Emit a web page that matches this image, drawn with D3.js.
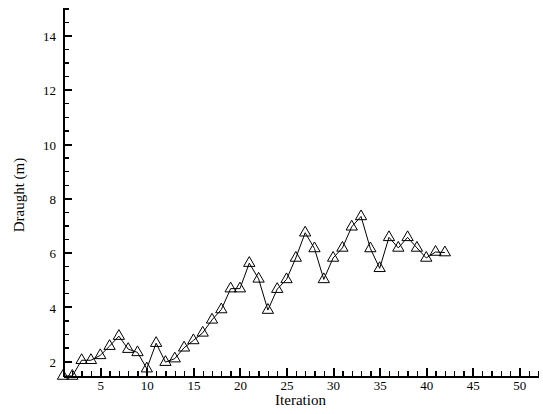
<!DOCTYPE html>
<html>
<head>
	<title>Draught vs iteration</title>
	<style>
	body { margin: 0; background: #fff; }
	svg text {
		font-family: "Liberation Serif", "DejaVu Serif", "Times New Roman", Times, serif;
	}
	.axis path, .axis line {
		stroke: black;
		fill: none;
		shape-rendering: crispEdges;
	}
	.axis text { font-size: 13px; fill: black; }
	.label { font-size: 15px; fill: black; }
	.series { fill: none; stroke: black; stroke-width: 1; }
	.marker { fill: none; stroke: black; stroke-width: 1; }
	</style>
	<script src="https://cdn.jsdelivr.net/npm/d3@7"></script>
</head>
<body>
	<svg class="chart"></svg>
	<script>
		var iterations = [1, 2, 3, 4, 5, 6, 7, 8, 9, 10, 11, 12, 13, 14, 15, 16, 17, 18, 19, 20, 21,
			22, 23, 24, 25, 26, 27, 28, 29, 30, 31, 32, 33, 34, 35, 36, 37, 38, 39, 40, 41, 42];
		var draught = [1.45, 1.45, 2.03, 2.03, 2.21, 2.55, 2.92, 2.44, 2.32, 1.72, 2.66, 1.96, 2.09, 2.49,
			2.76, 3.04, 3.52, 3.90, 4.67, 4.67, 5.61, 5.03, 3.88, 4.65, 5.01, 5.80, 6.73, 6.15, 5.01, 5.80,
			6.17, 6.95, 7.33, 6.15, 5.42, 6.56, 6.17, 6.56, 6.17, 5.80, 6.02, 6.00];

		var xMajorTicks = [5, 10, 15, 20, 25, 30, 35, 40, 45, 50];
		var xMinorTicks = [2, 3, 4, 6, 7, 8, 9, 11, 12, 13, 14, 16, 17, 18, 19, 21, 22, 23, 24, 26, 27, 28, 29,
			31, 32, 33, 34, 36, 37, 38, 39, 41, 42, 43, 44, 46, 47, 48, 49, 51, 52];
		var yMajorTicks = [2, 4, 6, 8, 10, 12, 14];
		var yMinorTicks = [2.5, 3, 3.5, 4.5, 5, 5.5, 6.5, 7, 7.5, 8.5, 9, 9.5, 10.5, 11, 11.5, 12.5, 13, 13.5, 14.5, 15];

		var width = 543, height = 414;
		var serif = "'Liberation Serif', 'DejaVu Serif', serif";

		var x = d3.scaleLinear()
			.domain([1, 52])
			.range([63, 538]);

		var y = d3.scaleLinear()
			.domain([1.45, 15.05])
			.range([376, 7]);

		var svg = d3.select(".chart")
			.attr("width", width)
			.attr("height", height);

		var main = svg.append("g").attr("class", "main");

		// minor ticks first, then major axes on top
		main.append("g")
			.attr("class", "axis")
			.attr("transform", "translate(0," + y.range()[0] + ")")
			.call(d3.axisBottom(x).tickValues(xMinorTicks).tickSize(-5.5).tickSizeOuter(0).tickFormat(""))
			.call(function(g) { g.select(".domain").remove(); g.selectAll("line").attr("stroke-width", 1.3); });

		main.append("g")
			.attr("class", "axis")
			.attr("transform", "translate(" + x.range()[0] + ",0)")
			.call(d3.axisLeft(y).tickValues(yMinorTicks).tickSize(-6).tickSizeOuter(0).tickFormat(""))
			.call(function(g) { g.select(".domain").remove(); g.selectAll("line").attr("stroke-width", 1.3); });

		var xAxis = d3.axisBottom(x)
			.tickValues(xMajorTicks)
			.tickSize(-8)
			.tickSizeOuter(0)
			.tickPadding(5);
		main.append("g")
			.attr("class", "axis")
			.attr("transform", "translate(0," + y.range()[0] + ")")
			.call(xAxis)
			.attr("font-family", serif)
			.call(function(g) {
				g.select(".domain").attr("stroke-width", 2);
				g.selectAll("line").attr("stroke-width", 2);
			});

		var yAxis = d3.axisLeft(y)
			.tickValues(yMajorTicks)
			.tickSize(-9)
			.tickSizeOuter(0)
			.tickPadding(7);
		main.append("g")
			.attr("class", "axis")
			.attr("transform", "translate(" + x.range()[0] + ",0)")
			.call(yAxis)
			.attr("font-family", serif)
			.call(function(g) {
				g.select(".domain").attr("stroke-width", 2);
				g.selectAll("line").attr("stroke-width", 2);
				g.selectAll("text").attr("dy", "0.4em");
			});

		main.append("text")
			.attr("class", "label")
			.attr("font-family", serif)
			.attr("x", (x.range()[0] + x.range()[1]) / 2)
			.attr("y", 405)
			.style("text-anchor", "middle")
			.text("Iteration");

		main.append("text")
			.attr("class", "label")
			.attr("font-family", serif)
			.attr("transform", "translate(24," + 195 + ") rotate(-90)")
			.style("text-anchor", "middle")
			.text("Draught (m)");

		var line = d3.line()
			.x(function(d, i) { return x(iterations[i]); })
			.y(function(d) { return y(d); });

		main.append("path")
			.datum(draught)
			.attr("class", "series")
			.attr("d", line);

		var tri = d3.symbol().type(d3.symbolTriangle).size(55);

		main.selectAll(".marker")
			.data(draught)
			.enter().append("path")
			.attr("class", "marker")
			.attr("transform", function(d, i) { return "translate(" + x(iterations[i]) + "," + y(d) + ")"; })
			.attr("d", tri);
	</script>
</body>
</html>
